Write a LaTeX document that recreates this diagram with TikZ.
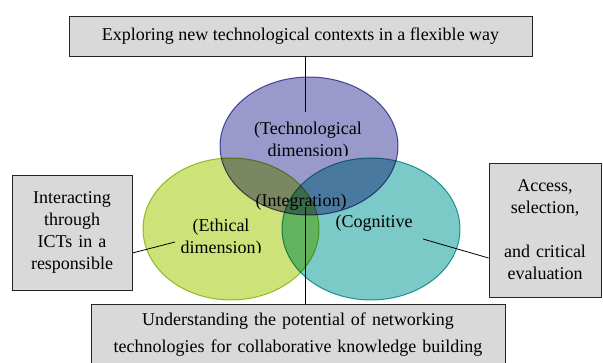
\documentclass[tikz,border=0pt]{standalone}
\usepackage{fontspec}
\setmainfont{Liberation Serif}
\usetikzlibrary{shapes.geometric}
\definecolor{techfill}{RGB}{153,153,204}
\definecolor{techline}{RGB}{90,90,170}
\definecolor{ethfill}{RGB}{205,226,120}
\definecolor{ethline}{RGB}{160,205,50}
\definecolor{cogfill}{RGB}{124,202,200}
\definecolor{cogline}{RGB}{50,165,165}
\definecolor{boxgray}{RGB}{217,217,217}
\tikzstyle{infobox} = [rectangle, draw=black!85, fill=boxgray, line width=0.9pt, align=center, inner sep=0pt]
\tikzstyle{dimension} = [ellipse, draw, line width=1pt, inner sep=0pt]
\tikzstyle{lbl} = [anchor=base, inner sep=0pt, align=center]

\begin{document}
\begin{tikzpicture}[x=1pt,y=-1pt,line width=0.8pt,font=\fontsize{18}{22}\selectfont]
  \clip (0,0) rectangle (603,363);
  \fill[white] (0,0) rectangle (603,363);

  % the three dimensions
  \begin{scope}[blend group=multiply]
    \node[dimension, draw=techline, fill=techfill, minimum width=178pt, minimum height=138pt] (Tech) at (309,146) {};
    \node[dimension, draw=ethline, fill=ethfill, minimum width=176pt, minimum height=142pt] (Eth) at (231,229) {};
    \node[dimension, draw=cogline, fill=cogfill, minimum width=178pt, minimum height=142pt] (Cog) at (371,229) {};
  \end{scope}

  % labels inside the ellipses
  \begin{scope}
    \clip (230,110) rectangle (390,156);
    \node[lbl] (TechLbl) at (308,157) {(Technological\\ dimension)};
  \end{scope}
  \begin{scope}
    \clip (160,205) rectangle (280,253);
    \node[lbl] (EthLbl) at (221,254) {(Ethical\\ dimension)};
  \end{scope}
  \node[lbl] (CogLbl) at (374,228) {(Cognitive};
  \node[lbl] (IntegLbl) at (301,207) {(Integration)};

  % boxes
  \node[infobox, minimum width=463pt, minimum height=40pt] (Explore) at (300.5,36) {Exploring new technological contexts in a flexible way};
  \node[infobox, minimum width=120pt, minimum height=115pt, text width=110pt] (Interact) at (72,232.5) {Interacting\\ through\\ ICTs in a\\ responsible};
  \node[infobox, minimum width=112pt, minimum height=134pt, text width=108pt] (Access) at (545,230) {Access,\\ selection,\\[22pt] and critical\\ evaluation};
  \node[infobox, anchor=north, minimum width=414pt, inner ysep=8pt, text width=400pt, font=\fontsize{18}{27}\selectfont] (Understand) at (298,304) {Understanding the potential of networking\\ technologies for collaborative knowledge building};

  % connectors
  \coordinate (TechEnd) at (305,112);
  \coordinate (IntegEnd) at (305,207);
  \coordinate (EthEnd) at (175,242);
  \coordinate (CogEnd) at (423,239);
  \draw (Explore.south -| TechEnd) -- (TechEnd);
  \draw (IntegEnd) -- (Understand.north -| IntegEnd);
  \draw (EthEnd) -- ([yshift=-20.5pt]Interact.east);
  \draw (CogEnd) -- ([yshift=-28pt]Access.west);
\end{tikzpicture}
\end{document}
